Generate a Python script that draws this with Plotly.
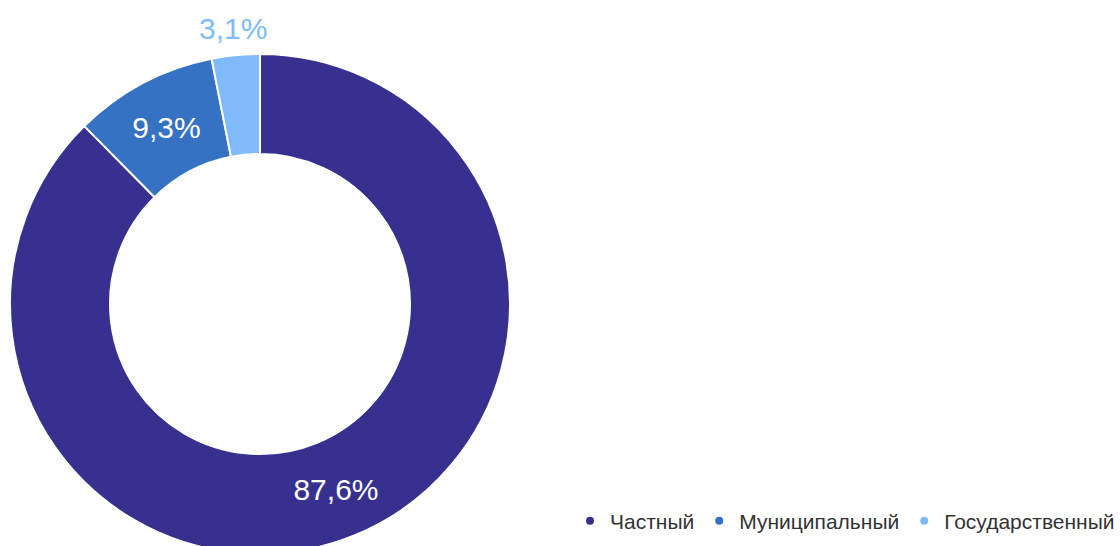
import math
import plotly.graph_objects as go

categories = ["Частный", "Муниципальный", "Государственный"]
values = [87.6, 9.3, 3.1]
colors = ["#36318f", "#3572c4", "#7fbbfb"]
text_labels = ["87,6%", "9,3%", "3,1%"]
inside_shown = [True, True, False]
label_colors = ["#ffffff", "#ffffff", "#7fbbfb"]

W, H = 1120, 600
M_T, M_B = 54, 46
DOM_X = [10 / W, 510 / W]
FONT = "Arial, Liberation Sans"

fig = go.Figure()
fig.add_trace(go.Pie(
    labels=categories,
    values=values,
    text=[t if s else "" for t, s in zip(text_labels, inside_shown)],
    textinfo="text",
    textposition="inside",
    insidetextorientation="horizontal",
    hole=0.6,
    sort=False,
    direction="clockwise",
    rotation=0,
    marker=dict(colors=colors, line=dict(color="#ffffff", width=2)),
    insidetextfont=dict(size=30, color=label_colors, family=FONT),
    domain=dict(x=DOM_X, y=[0, 1]),
    showlegend=False,
    hoverinfo="label+percent",
))
for name, c in zip(categories, colors):
    fig.add_trace(go.Scatter(
        x=[None], y=[None], mode="markers", name=name,
        marker=dict(color=c, size=8, symbol="circle"),
    ))

# outside label(s) placed radially from the slice mid-angle
plot_h = H - M_T - M_B
radius_px = min((DOM_X[1] - DOM_X[0]) * W, plot_h) / 2
cx = (DOM_X[0] + DOM_X[1]) / 2
total = sum(values)
cum = 0
for v, t, s, col in zip(values, text_labels, inside_shown, label_colors):
    mid = (cum + v / 2) / total * 2 * math.pi
    cum += v
    if s:
        continue
    r = radius_px * 1.108
    fig.add_annotation(
        x=cx + r * math.sin(mid) / W, y=0.5 + r * math.cos(mid) / plot_h,
        xref="paper", yref="paper", text=t, showarrow=False,
        xanchor="center", yanchor="middle",
        font=dict(size=30, color=col, family=FONT),
    )

fig.update_layout(
    width=W, height=H,
    margin=dict(l=0, r=0, t=M_T, b=M_B),
    paper_bgcolor="white", plot_bgcolor="white",
    font=dict(family=FONT, color="#333333"),
    xaxis=dict(visible=False), yaxis=dict(visible=False),
    legend=dict(
        orientation="h", x=1, xanchor="right", y=0.066, yanchor="middle",
        font=dict(size=21, color="#333333"), itemwidth=30,
        bgcolor="rgba(0,0,0,0)",
    ),
)
fig.write_html(
    "out.html",
    config={"displayModeBar": False},
    post_script="document.body.style.margin='0';document.body.style.overflow='hidden';",
)
